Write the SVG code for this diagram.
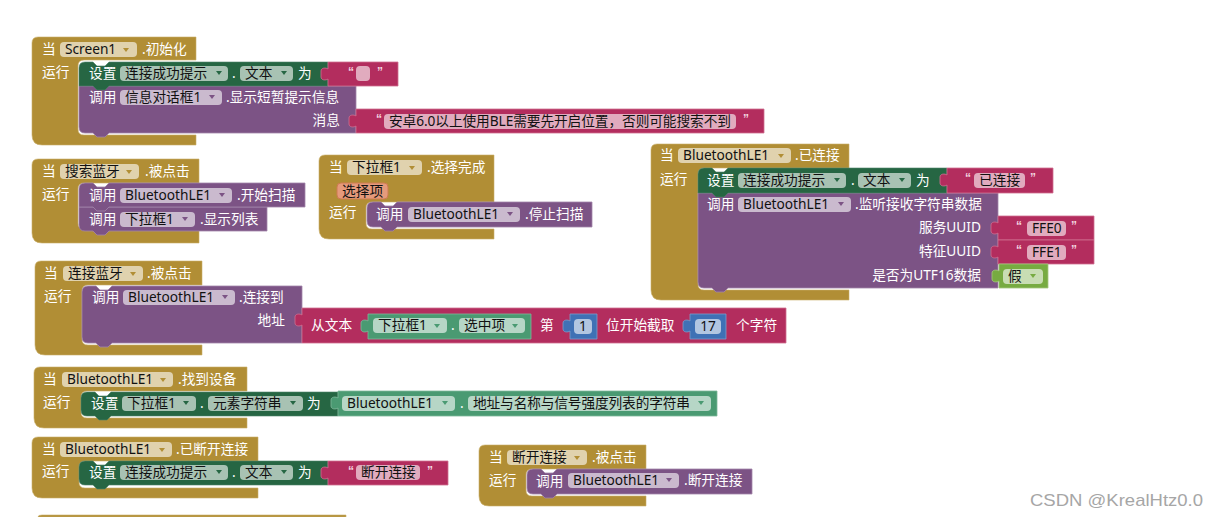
<svg xmlns="http://www.w3.org/2000/svg" width="1219" height="517" viewBox="0 0 1219 517">
<style>
text{font-family:"Noto Sans","Noto Sans CJK SC","Liberation Sans",sans-serif;font-size:13.7px;white-space:pre}
.t{fill:#fff}.d{fill:#111}.e{text-anchor:end}.m{text-anchor:middle}
.q{fill:#f3d6e0;font-size:12px;font-family:"Liberation Sans",sans-serif;font-weight:bold}
.f{fill:#fff;fill-opacity:.6}
.gold{fill:#B18E35;stroke:#C9AE69;stroke-width:.6}
.pur{fill:#7C5385;stroke:#A285AA;stroke-width:.8}
.grn{fill:#266643;stroke:#4F8369;stroke-width:.6}
.str{fill:#B32D5E;stroke:#CF6F91;stroke-width:.8}
.lgr{fill:#4A9A72;stroke:#7FB89B;stroke-width:.8}
.blu{fill:#3F71B5;stroke:#7B9CCB;stroke-width:.8}
.boo{fill:#77AB41;stroke:#A3C67D;stroke-width:.8}
.ag{fill:#B18E35}.ap{fill:#7C5385}.ae{fill:#266643}.al{fill:#4A9A72}.ab{fill:#77AB41}
.mark{fill:#a6a6a6;font-size:17px;font-family:"Liberation Sans",sans-serif}
</style>
<defs><polygon id="a" points="0,0 6,0 3,4"/></defs>

<g id="connectors"></g>

<g id="screen-init">
<path class="gold" d="M32,43 q0,-6 6,-6 H196 V60 H84 q-6,0 -6,6 V129 q0,6 6,6 H196 V145 H42 q-10,0 -10,-10 Z"/>
<text class="t" x="42" y="54">当</text><rect class="f" x="60" y="42" width="77" height="15" rx="4"/><text class="d" x="65" y="54">Screen1</text><use href="#a" class="ag" x="123" y="48"/><text class="t" x="142" y="54">.初始化</text>
<text class="t" x="42" y="77">运行</text>
<path class="pur" d="M79,86 H356 V133 H109 l-4,4 h-8 l-4,-4 H85 q-6,0 -6,-6 Z"/>
<path class="grn" d="M79,68 q0,-6 6,-6 h8 l4,4 h8 l4,-4 H328 V86 H109 l-4,4 h-8 l-4,-4 H79 Z"/>
<text class="t" x="89" y="78">设置</text><rect class="f" x="120" y="66" width="108" height="15" rx="4"/><text class="d" x="125" y="78">连接成功提示</text><use href="#a" class="ae" x="216" y="71"/><text class="t" x="232" y="78">.</text><rect class="f" x="240" y="66" width="53" height="15" rx="4"/><text class="d" x="245" y="78">文本</text><use href="#a" class="ae" x="281" y="71"/><text class="t" x="298" y="78">为</text>
<path class="str" d="M328,62 H398 V86 H328 V79 c-2,1.5 -7,1.5 -7,-2 v-6 c0,-3.5 5,-3.5 7,-2 Z"/>
<text class="q" x="348" y="76">“</text><rect class="f" x="356" y="66" width="14" height="15" rx="4"/><text class="q" x="377" y="76">”</text>
<text class="t" x="89" y="102">调用</text><rect class="f" x="120" y="90" width="102" height="15" rx="4"/><text class="d" x="125" y="102">信息对话框1</text><use href="#a" class="ap" x="209" y="95"/><text class="t" x="226" y="102">.显示短暂提示信息</text>
<text class="t e" x="340" y="125">消息</text>
<path class="str" d="M356,109 H764 V133 H356 V126 c-2,1.5 -7,1.5 -7,-2 v-6 c0,-3.5 5,-3.5 7,-2 Z"/>
<text class="q" x="376" y="123">“</text><rect class="f" x="384" y="114" width="352" height="15" rx="4"/><text class="d" x="389" y="126" textLength="342" lengthAdjust="spacing">安卓6.0以上使用BLE需要先开启位置，否则可能搜索不到</text><text class="q" x="743" y="123">”</text>
</g>

<g id="search-click">
<path class="gold" d="M32,165 q0,-6 6,-6 H199 V183 H84 q-6,0 -6,6 V223 q0,6 6,6 H199 V243 H42 q-10,0 -10,-10 Z"/>
<text class="t" x="42" y="176">当</text><rect class="f" x="60" y="164" width="79" height="15" rx="4"/><text class="d" x="65" y="176">搜索蓝牙</text><use href="#a" class="ag" x="126" y="170"/><text class="t" x="145" y="176">.被点击</text>
<text class="t" x="42" y="199">运行</text>
<path class="pur" d="M79,207 H267 V231 H109 l-4,4 h-8 l-4,-4 H85 q-6,0 -6,-6 Z"/>
<path class="pur" d="M79,189 q0,-6 6,-6 h8 l4,4 h8 l4,-4 H305 V207 H109 l-4,4 h-8 l-4,-4 H79 Z"/>
<text class="t" x="89" y="200">调用</text><rect class="f" x="120" y="188" width="112" height="15" rx="4"/><text class="d" x="125" y="200">BluetoothLE1</text><use href="#a" class="ap" x="219" y="193"/><text class="t" x="237" y="200">.开始扫描</text>
<text class="t" x="89" y="224">调用</text><rect class="f" x="120" y="212" width="75" height="15" rx="4"/><text class="d" x="125" y="224">下拉框1</text><use href="#a" class="ap" x="182" y="217"/><text class="t" x="200" y="224">.显示列表</text>
</g>

<g id="dropdown-select">
<path class="gold" d="M319,161 q0,-6 6,-6 H494 V202 H372 q-6,0 -6,6 V223 q0,6 6,6 H494 V239 H329 q-10,0 -10,-10 Z"/>
<text class="t" x="329" y="172">当</text><rect class="f" x="347" y="160" width="75" height="15" rx="4"/><text class="d" x="352" y="172">下拉框1</text><use href="#a" class="ag" x="409" y="166"/><text class="t" x="427" y="172">.选择完成</text>
<rect x="337" y="183" width="51" height="16" rx="4" fill="#E59A7C" stroke="#CE7A50" stroke-width="1"/><text class="d" x="342" y="196">选择项</text>
<text class="t" x="329" y="217">运行</text>
<path class="pur" d="M367,208 q0,-6 6,-6 h8 l4,4 h8 l4,-4 H592 V227 H397 l-4,4 h-8 l-4,-4 H373 q-6,0 -6,-6 Z"/>
<text class="t" x="376" y="219">调用</text><rect class="f" x="408" y="207" width="112" height="15" rx="4"/><text class="d" x="413" y="219">BluetoothLE1</text><use href="#a" class="ap" x="507" y="212"/><text class="t" x="525" y="219">.停止扫描</text>
</g>

<g id="ble-connected">
<path class="gold" d="M651,150 q0,-6 6,-6 H849 V168 H704 q-6,0 -6,6 V284 q0,6 6,6 H849 V300 H661 q-10,0 -10,-10 Z"/>
<text class="t" x="660" y="160">当</text><rect class="f" x="678" y="148" width="113" height="15" rx="4"/><text class="d" x="683" y="160">BluetoothLE1</text><use href="#a" class="ag" x="778" y="154"/><text class="t" x="795" y="160">.已连接</text>
<text class="t" x="660" y="184">运行</text>
<path class="pur" d="M698,193 H998 V288 H728 l-4,4 h-8 l-4,-4 H704 q-6,0 -6,-6 Z"/>
<path class="grn" d="M698,174 q0,-6 6,-6 h8 l4,4 h8 l4,-4 H947 V193 H728 l-4,4 h-8 l-4,-4 H698 Z"/>
<text class="t" x="707" y="185">设置</text><rect class="f" x="738" y="173" width="108" height="15" rx="4"/><text class="d" x="743" y="185">连接成功提示</text><use href="#a" class="ae" x="834" y="178"/><text class="t" x="851" y="185">.</text><rect class="f" x="858" y="173" width="53" height="15" rx="4"/><text class="d" x="863" y="185">文本</text><use href="#a" class="ae" x="899" y="178"/><text class="t" x="916" y="185">为</text>
<path class="str" d="M947,168 H1053 V193 H947 V185 c-2,1.5 -7,1.5 -7,-2 v-6 c0,-3.5 5,-3.5 7,-2 Z"/>
<text class="q" x="965" y="182">“</text><rect class="f" x="974" y="173" width="51" height="15" rx="4"/><text class="d" x="979" y="185">已连接</text><text class="q" x="1030" y="182">”</text>
<text class="t" x="707" y="209">调用</text><rect class="f" x="738" y="197" width="113" height="15" rx="4"/><text class="d" x="743" y="209">BluetoothLE1</text><use href="#a" class="ap" x="838" y="202"/><text class="t" x="855" y="209">.监听接收字符串数据</text>
<text class="t e" x="981" y="232">服务UUID</text><text class="t e" x="981" y="256">特征UUID</text><text class="t e" x="981" y="280">是否为UTF16数据</text>
<path class="str" d="M998,216 H1094 V240 H998 V233 c-2,1.5 -7,1.5 -7,-2 v-6 c0,-3.5 5,-3.5 7,-2 Z"/>
<text class="q" x="1016" y="230">“</text><rect class="f" x="1027" y="221" width="39" height="15" rx="4"/><text class="d" x="1032" y="233">FFE0</text><text class="q" x="1071" y="230">”</text>
<path class="str" d="M998,240 H1094 V264 H998 V257 c-2,1.5 -7,1.5 -7,-2 v-6 c0,-3.5 5,-3.5 7,-2 Z"/>
<text class="q" x="1016" y="254">“</text><rect class="f" x="1027" y="245" width="39" height="15" rx="4"/><text class="d" x="1032" y="257">FFE1</text><text class="q" x="1071" y="254">”</text>
<path class="boo" d="M999,264 H1048 V288 H999 V281 c-2,1.5 -7,1.5 -7,-2 v-6 c0,-3.5 5,-3.5 7,-2 Z"/>
<rect class="f" x="1003" y="269" width="40" height="15" rx="4"/><text class="d" x="1008" y="281">假</text><use href="#a" class="ab" x="1030" y="274"/>
</g>

<g id="connect-click">
<path class="gold" d="M35,267 q0,-6 6,-6 H202 V285 H88 q-6,0 -6,6 V339 q0,6 6,6 H202 V355 H45 q-10,0 -10,-10 Z"/>
<text class="t" x="44" y="278">当</text><rect class="f" x="63" y="266" width="80" height="15" rx="4"/><text class="d" x="68" y="278">连接蓝牙</text><use href="#a" class="ag" x="130" y="272"/><text class="t" x="147" y="278">.被点击</text>
<text class="t" x="44" y="301">运行</text>
<path class="pur" d="M82,292 q0,-6 6,-6 h8 l4,4 h8 l4,-4 H302 V343 H112 l-4,4 h-8 l-4,-4 H88 q-6,0 -6,-6 Z"/>
<text class="t" x="92" y="302">调用</text><rect class="f" x="123" y="290" width="112" height="15" rx="4"/><text class="d" x="128" y="302">BluetoothLE1</text><use href="#a" class="ap" x="222" y="295"/><text class="t" x="239" y="302">.连接到</text>
<text class="t e" x="285" y="325">地址</text>
<path class="str" d="M302,308 H786 V343 H302 V325 c-2,1.5 -7,1.5 -7,-2 v-6 c0,-3.5 5,-3.5 7,-2 Z"/>
<text class="t" x="311" y="330">从文本</text>
<path class="lgr" d="M368,314 H531 V339 H368 V331 c-2,1.5 -7,1.5 -7,-2 v-6 c0,-3.5 5,-3.5 7,-2 Z"/>
<rect class="f" x="373" y="318" width="74" height="15" rx="4"/><text class="d" x="378" y="330">下拉框1</text><use href="#a" class="al" x="434" y="324"/><text class="t" x="451" y="330">.</text><rect class="f" x="459" y="318" width="66" height="15" rx="4"/><text class="d" x="464" y="330">选中项</text><use href="#a" class="al" x="512" y="324"/>
<text class="t" x="540" y="330">第</text>
<path class="blu" d="M570,314 H597 V339 H570 V331 c-2,1.5 -7,1.5 -7,-2 v-6 c0,-3.5 5,-3.5 7,-2 Z"/>
<rect class="f" x="574" y="319" width="18" height="15" rx="4"/><text class="d m" x="583" y="331">1</text>
<text class="t" x="606" y="330">位开始截取</text>
<path class="blu" d="M690,314 H726 V339 H690 V331 c-2,1.5 -7,1.5 -7,-2 v-6 c0,-3.5 5,-3.5 7,-2 Z"/>
<rect class="f" x="695" y="319" width="26" height="15" rx="4"/><text class="d m" x="708" y="331">17</text>
<text class="t" x="736" y="330">个字符</text>
</g>

<g id="found-device">
<path class="gold" d="M34,373 q0,-6 6,-6 H247 V391 H87 q-6,0 -6,6 V412 q0,6 6,6 H247 V428 H44 q-10,0 -10,-10 Z"/>
<text class="t" x="43" y="384">当</text><rect class="f" x="62" y="372" width="111" height="15" rx="4"/><text class="d" x="67" y="384">BluetoothLE1</text><use href="#a" class="ag" x="160" y="378"/><text class="t" x="178" y="384">.找到设备</text>
<text class="t" x="43" y="407">运行</text>
<path class="grn" d="M81,398 q0,-6 6,-6 h8 l4,4 h8 l4,-4 H338 V416 H111 l-4,4 h-8 l-4,-4 H87 q-6,0 -6,-6 Z"/>
<text class="t" x="91" y="408">设置</text><rect class="f" x="122" y="396" width="74" height="15" rx="4"/><text class="d" x="127" y="408">下拉框1</text><use href="#a" class="ae" x="183" y="401"/><text class="t" x="200" y="408">.</text><rect class="f" x="208" y="396" width="95" height="15" rx="4"/><text class="d" x="213" y="408">元素字符串</text><use href="#a" class="ae" x="290" y="401"/><text class="t" x="307" y="408">为</text>
<path class="lgr" d="M338,391 H717 V416 H338 V408 c-2,1.5 -7,1.5 -7,-2 v-6 c0,-3.5 5,-3.5 7,-2 Z"/>
<rect class="f" x="342" y="396" width="113" height="15" rx="4"/><text class="d" x="347" y="408">BluetoothLE1</text><use href="#a" class="al" x="442" y="401"/><text class="t" x="460" y="408">.</text><rect class="f" x="468" y="396" width="243" height="15" rx="4"/><text class="d" x="473" y="408" textLength="217" lengthAdjust="spacing">地址与名称与信号强度列表的字符串</text><use href="#a" class="al" x="698" y="401"/>
</g>

<g id="ble-disconnected">
<path class="gold" d="M32,443 q0,-6 6,-6 H258 V461 H85 q-6,0 -6,6 V482 q0,6 6,6 H258 V498 H42 q-10,0 -10,-10 Z"/>
<text class="t" x="42" y="454">当</text><rect class="f" x="60" y="442" width="112" height="15" rx="4"/><text class="d" x="65" y="454">BluetoothLE1</text><use href="#a" class="ag" x="159" y="448"/><text class="t" x="176" y="454">.已断开连接</text>
<text class="t" x="42" y="476">运行</text>
<path class="grn" d="M79,467 q0,-6 6,-6 h8 l4,4 h8 l4,-4 H328 V485 H109 l-4,4 h-8 l-4,-4 H85 q-6,0 -6,-6 Z"/>
<text class="t" x="89" y="477">设置</text><rect class="f" x="120" y="465" width="108" height="15" rx="4"/><text class="d" x="125" y="477">连接成功提示</text><use href="#a" class="ae" x="216" y="470"/><text class="t" x="232" y="477">.</text><rect class="f" x="240" y="465" width="53" height="15" rx="4"/><text class="d" x="245" y="477">文本</text><use href="#a" class="ae" x="281" y="470"/><text class="t" x="298" y="477">为</text>
<path class="str" d="M328,461 H448 V485 H328 V478 c-2,1.5 -7,1.5 -7,-2 v-6 c0,-3.5 5,-3.5 7,-2 Z"/>
<text class="q" x="348" y="475">“</text><rect class="f" x="356" y="465" width="64" height="15" rx="4"/><text class="d" x="361" y="477">断开连接</text><text class="q" x="427" y="475">”</text>
</g>

<g id="disconnect-click">
<path class="gold" d="M479,451 q0,-6 6,-6 H646 V469 H532 q-6,0 -6,6 V490 q0,6 6,6 H646 V506 H489 q-10,0 -10,-10 Z"/>
<text class="t" x="489" y="462">当</text><rect class="f" x="507" y="450" width="80" height="15" rx="4"/><text class="d" x="512" y="462">断开连接</text><use href="#a" class="ag" x="574" y="456"/><text class="t" x="592" y="462">.被点击</text>
<text class="t" x="489" y="485">运行</text>
<path class="pur" d="M527,475 q0,-6 6,-6 h8 l4,4 h8 l4,-4 H752 V494 H557 l-4,4 h-8 l-4,-4 H533 q-6,0 -6,-6 Z"/>
<text class="t" x="536" y="486">调用</text><rect class="f" x="568" y="473" width="111" height="15" rx="4"/><text class="d" x="573" y="485">BluetoothLE1</text><use href="#a" class="ap" x="666" y="478"/><text class="t" x="684" y="485">.断开连接</text>
</g>

<g id="cut-off-block"><path class="gold" d="M38,517 q0,-2 4,-2 H346 V517 Z"/></g>

<text class="mark" x="1030" y="506" textLength="173" lengthAdjust="spacingAndGlyphs">CSDN @KrealHtz0.0</text>
</svg>
